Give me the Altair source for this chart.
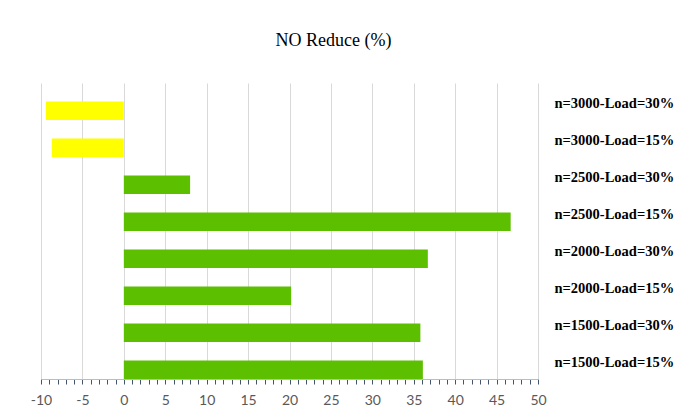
import altair as alt
import pandas as pd

categories = [
    "n=3000-Load=30%",
    "n=3000-Load=15%",
    "n=2500-Load=30%",
    "n=2500-Load=15%",
    "n=2000-Load=30%",
    "n=2000-Load=15%",
    "n=1500-Load=30%",
    "n=1500-Load=15%",
]
values = [-9.4, -8.7, 8.0, 46.7, 36.7, 20.2, 35.8, 36.1]
tick_values = list(range(-10, 51))

df = pd.DataFrame({"case": categories, "reduce": values})

chart = (
    alt.Chart(df)
    .mark_bar()
    .encode(
        x=alt.X(
            "reduce:Q",
            scale=alt.Scale(domain=[-10, 50], nice=False, zero=True),
            axis=alt.Axis(
                title=None,
                values=tick_values,
                labelExpr="datum.value % 5 === 0 ? toString(datum.value) : ''",
                labelOverlap=False,
                labelFlush=False,
                labelFont="Lato",
                labelFontSize=14,
                labelColor="#595959",
                labelPadding=9,
                tickSize=5,
                tickColor="#44546A",
                tickWidth=1,
                domainColor="#9DC3E6",
                domainWidth=1,
                grid=True,
                gridColor="#D9D9D9",
                gridWidth=1,
                gridOpacity={"condition": {"test": "datum.value % 5 === 0", "value": 1}, "value": 0},
            ),
        ),
        y=alt.Y(
            "case:N",
            sort=categories,
            scale=alt.Scale(paddingInner=0.5, paddingOuter=0.25, align=1),
            axis=alt.Axis(
                orient="right",
                title=None,
                domain=False,
                ticks=False,
                grid=False,
                labelFont="Liberation Serif",
                labelFontWeight="bold",
                labelFontSize=14.5,
                labelColor="#000000",
                labelAlign="left",
                labelPadding=16,
                labelOffset=-7,
            ),
        ),
        color=alt.condition("datum.reduce < 0", alt.value("#FFFF00"), alt.value("#5CBF00")),
    )
    .properties(
        width=497,
        height=296,
        autosize=alt.AutoSizeParams(type="none"),
        padding={"left": 33, "top": 75, "right": 137, "bottom": 32},
        title=alt.TitleParams(
            text="NO Reduce (%)",
            font="Liberation Serif",
            fontSize=18,
            fontWeight="normal",
            color="#000000",
            anchor="middle",
            dx=44,
            offset=33,
        ),
    )
    .configure_view(stroke=None)
)

chart.save("out.html", embed_options={"renderer": "svg", "actions": False})
